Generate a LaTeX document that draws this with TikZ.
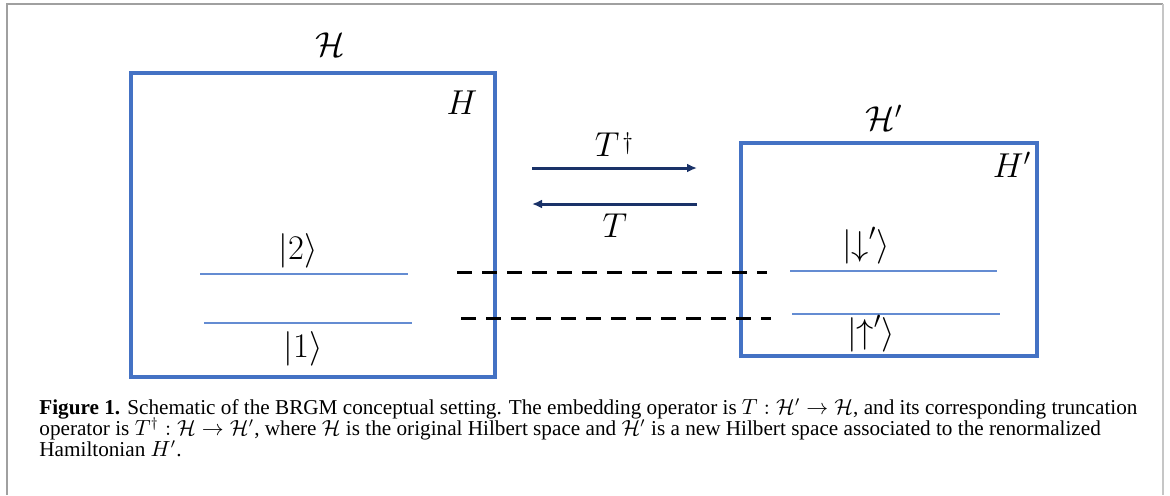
\documentclass[tikz,border=0pt]{standalone}
\usepackage{fontspec}
\setmainfont{Liberation Serif}
\usetikzlibrary{arrows.meta}
\definecolor{boxblue}{RGB}{68,114,196}
\definecolor{levelblue}{RGB}{100,140,210}
\definecolor{navy}{RGB}{26,50,104}
\definecolor{framegray}{RGB}{160,160,160}
\tikzset{
  boxline/.style={draw=boxblue, line width=2pt},
  levelline/.style={draw=levelblue, line width=0.55pt},
  dashline/.style={draw=black, line width=1.5pt, dash pattern=on 7.5pt off 5pt},
  arr/.style={draw=navy, line width=1.5pt, -{Latex[length=5pt,width=4.5pt]}},
  lbl/.style={inner sep=0pt, font=\fontsize{17}{20}\selectfont},
  capline/.style={anchor=base west, inner sep=0pt, text height=7pt, text depth=2pt, font=\fontsize{10.6}{10.5}\selectfont}
}
\begin{document}
\begin{tikzpicture}[x=0.5pt,y=-0.5pt]
\useasboundingbox (0,0) rectangle (1170,495);
% frame
\draw[framegray, line width=0.6pt] (7,495) -- (7,4) -- (1163,4);
\draw[framegray!60, line width=0.9pt] (1163,4) -- (1163,495);
% boxes
\coordinate (L1) at (131,73); \coordinate (L2) at (495,377);
\coordinate (R1) at (741,143); \coordinate (R2) at (1037,356);
\draw[boxline] (L1) rectangle (L2);
\draw[boxline] (R1) rectangle (R2);
\node[lbl] (calH) at (330,45) {$\mathcal{H}$};
\node[lbl] (Hl) at (462,103) {$H$};
\node[lbl] (calHp) at (884,118) {$\mathcal{H}'$};
\node[lbl] (Hr) at (1012,165) {$H'$};
% arrows
\coordinate (a1s) at (532,168); \coordinate (a1e) at (697,168);
\coordinate (a2s) at (697,204); \coordinate (a2e) at (532,204);
\draw[arr] (a1s) -- (a1e);
\draw[arr] (a2s) -- (a2e);
\node[lbl] (Td) at (614,145) {$T$\hspace{1.5pt}\raisebox{3.5pt}{\fontsize{13}{13}\selectfont$\dagger$}};
\node[lbl] (T) at (615,226) {$T$};
% levels left
\coordinate (l2a) at (200,274); \coordinate (l2b) at (408,274);
\coordinate (l1a) at (204,323); \coordinate (l1b) at (412,323);
\draw[levelline] (l2a) -- (l2b);
\draw[levelline] (l1a) -- (l1b);
\node[lbl] (k2) at (298,251) {$|2\rangle$};
\node[lbl] (k1) at (303,349) {$|1\rangle$};
% levels right
\coordinate (rda) at (790,271); \coordinate (rdb) at (997,271);
\coordinate (rua) at (792,314); \coordinate (rub) at (1000,314);
\draw[levelline] (rda) -- (rdb);
\draw[levelline] (rua) -- (rub);
\node[lbl] (kd) at (866,246) {$|{\downarrow}'\rangle$};
\node[lbl] (ku) at (871,334) {$|{\uparrow}'\rangle$};
% dashed correspondences
\coordinate (d1a) at (457,272); \coordinate (d1b) at (767,272);
\coordinate (d2a) at (461,318); \coordinate (d2b) at (771,318);
\draw[dashline] (d1a) -- (d1b);
\draw[dashline] (d2a) -- (d2b);
% caption
\node[capline] (c1) at (39,414) {\textbf{Figure 1.} Schematic of the BRGM conceptual setting. The embedding operator is $T:\mathcal{H}'\rightarrow\mathcal{H}$, and its corresponding truncation};
\node[capline] (c2) at (39,435) {operator is $T^{\dagger}:\mathcal{H}\rightarrow\mathcal{H}'$, where $\mathcal{H}$ is the original Hilbert space and $\mathcal{H}'$ is a new Hilbert space associated to the renormalized};
\node[capline] (c3) at (39,456) {Hamiltonian $H'$.};
\end{tikzpicture}
\end{document}
